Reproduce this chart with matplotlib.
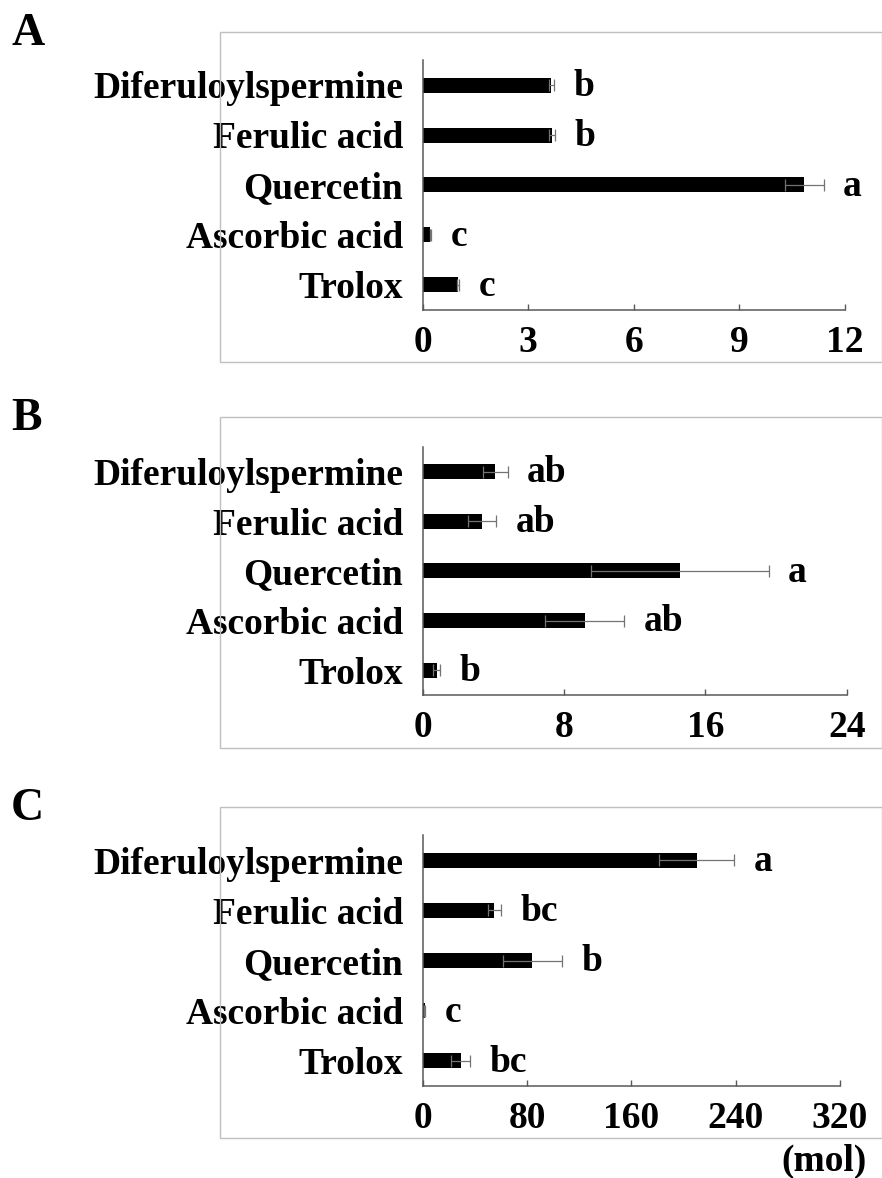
import matplotlib
matplotlib.use("Agg")
import matplotlib.pyplot as plt
from matplotlib.patches import Rectangle
import numpy as np

# ---- data ----
categories = ["Diferuloylspermine", "Ferulic acid", "Quercetin", "Ascorbic acid", "Trolox"]

a_means = [3.65, 3.68, 10.84, 0.22, 1.00]
a_errs = [0.07, 0.09, 0.55, 0.02, 0.03]
a_letters = ["b", "b", "a", "c", "c"]
a_ticks = [0, 3, 6, 9, 12]

b_means = [4.12, 3.37, 14.55, 9.17, 0.79]
b_errs = [0.68, 0.78, 5.03, 2.25, 0.20]
b_letters = ["ab", "ab", "a", "ab", "b"]
b_ticks = [0, 8, 16, 24]

c_means = [210.0, 55.0, 84.0, 1.5, 29.0]
c_errs = [29.0, 5.0, 22.5, 0.5, 7.5]
c_letters = ["a", "bc", "b", "c", "bc"]
c_ticks = [0, 80, 160, 240, 320]

panel_labels = ["A", "B", "C"]
unit_label = "(mol)"

# ---- figure ----
W, H = 882, 1178
fig = plt.figure(figsize=(W / 100, H / 100), dpi=100)
FONT = "Liberation Serif"
FS = 27
SPINE = "#595959"

def fx(px):
    return px / W

def fy(py):
    return 1 - py / H

panels = [
    dict(means=a_means, errs=a_errs, letters=a_letters, ticks=a_ticks,
         ax_px=(422.7, 60, 845.0, 310), frame=(220, 31.5, 361.7), label_y=34),
    dict(means=b_means, errs=b_errs, letters=b_letters, ticks=b_ticks,
         ax_px=(422.7, 446.7, 846.7, 695), frame=(220, 416.7, 748.3), label_y=419),
    dict(means=c_means, errs=c_errs, letters=c_letters, ticks=c_ticks,
         ax_px=(422.7, 835, 840.0, 1086), frame=(220, 806.7, 1138.3), label_y=809),
]

for i, p in enumerate(panels):
    x0, y0, x1, y1 = p["ax_px"]
    ax = fig.add_axes([fx(x0), fy(y1), fx(x1 - x0), (y1 - y0) / H])
    n = len(categories)
    ypos = np.arange(n)[::-1]
    ax.barh(ypos, p["means"], height=0.3, color="black", zorder=2)
    ax.errorbar(p["means"], ypos, xerr=p["errs"], fmt="none", ecolor="#737373",
                elinewidth=0.9, capsize=4.5, capthick=0.9, zorder=3)
    for yv, m, e, lt in zip(ypos, p["means"], p["errs"], p["letters"]):
        ax.annotate(lt, xy=(m + e, yv), xytext=(14, -1), textcoords="offset points",
                    ha="left", va="center", fontsize=FS, fontweight="bold",
                    family=FONT, annotation_clip=False)
    ax.set_xlim(p["ticks"][0], p["ticks"][-1])
    ax.set_ylim(-0.5, n - 0.5)
    ax.set_xticks(p["ticks"])
    ax.set_xticklabels([str(t) for t in p["ticks"]], fontsize=FS, fontweight="bold", family=FONT)
    ax.set_yticks(ypos)
    ax.set_yticklabels(categories, fontsize=FS, fontweight="bold", family=FONT)
    ax.tick_params(axis="y", length=0, pad=14)
    ax.tick_params(axis="x", direction="in", length=4.5, width=1.0, color=SPINE, pad=11)
    for s in ["top", "right"]:
        ax.spines[s].set_visible(False)
    for s in ["left", "bottom"]:
        ax.spines[s].set_color(SPINE)
        ax.spines[s].set_linewidth(1.1)
    ax.set_facecolor("none")

    # gray frame
    fl, ft, fb = p["frame"]
    rect = Rectangle((fx(fl), fy(fb)), fx(W - 0.5 - fl), (fb - ft) / H,
                     transform=fig.transFigure, fill=False, edgecolor="#bfbfbf",
                     linewidth=1.0, zorder=0)
    fig.patches.append(rect)

    fig.text(fx(11), fy(p["label_y"]), panel_labels[i], fontsize=33, fontweight="bold",
             family=FONT, ha="left", va="center")

fig.text(fx(867), fy(1161), unit_label, fontsize=FS, fontweight="bold", family=FONT,
         ha="right", va="center")

fig.savefig("out.png", dpi=100, facecolor="white")
